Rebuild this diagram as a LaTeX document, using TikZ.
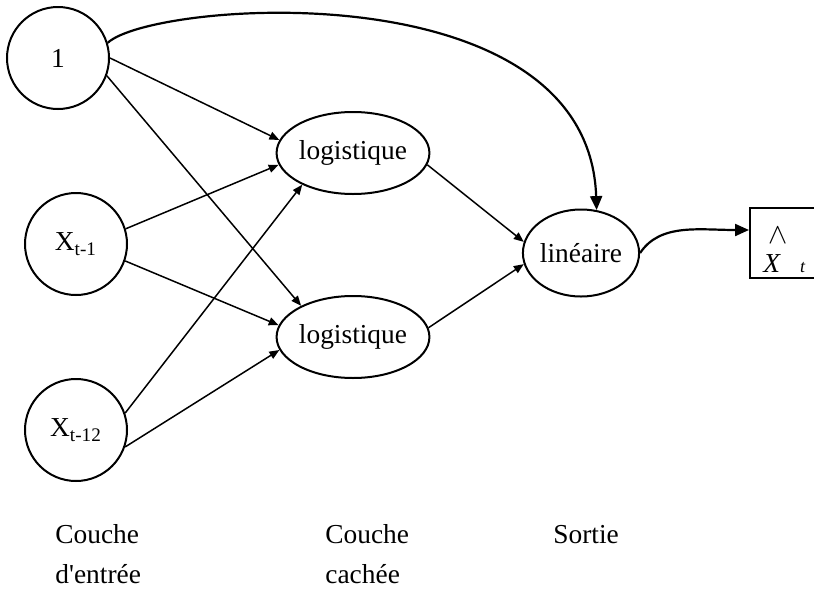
\documentclass[tikz,border=0pt]{standalone}
\usepackage{fontspec}
\setmainfont{Liberation Serif}
\usetikzlibrary{arrows.meta, shapes.geometric}

\begin{document}
\begin{tikzpicture}[x=0.5pt, y=-0.5pt, font=\fontsize{13.7}{16}\selectfont,
  neuron/.style={draw, line width=1pt, circle, minimum size=51pt, inner sep=0pt},
  unit/.style={draw, line width=1pt, ellipse, inner sep=0pt},
  link/.style={line width=0.75pt, -{Triangle[length=5pt, width=4pt]}},
  loop/.style={line width=1.1pt, -{Triangle[length=7pt, width=6pt]}},
  caption/.style={anchor=base west, inner sep=0pt}]
\clip (0,0) rectangle (814,600);
% couche d'entree
\node[neuron] (N1) at (58,58) {1};
\node[neuron] (X1) at (76,244) {X\textsubscript{t-1}};
\node[neuron] (X12) at (76,430) {X\textsubscript{t-12}};
% couche cachee et sortie
\node[unit, minimum width=58.5pt, minimum height=41pt] (H1) at (353,153) {logistique};
\node[unit, minimum width=58.5pt, minimum height=41pt] (H2) at (353,337) {logistique};
\node[unit, minimum width=51pt, minimum height=43.5pt] (L) at (581,253) {lin\'eaire};
\node[draw, line width=1pt, minimum width=45pt, minimum height=35pt, inner sep=0pt] (Y) at (795,243) {};
\node[inner sep=0pt] (caret) at (778,235) {$\wedge$};
\node[caption] (Xt) at (763,272) {\textit{X}\hspace{9.5pt}{\fontsize{9}{10}\selectfont\textit{t}}};
% connexions
\draw[link] (N1.east) -- (H1.170);
\draw[link] (N1.-20) -- (H2.149);
\draw[link] (X1.17) -- (H1.189);
\draw[link] (X1.-19) -- (H2.171);
\draw[link] (X12.19) -- (H1.212);
\draw[link] (X12.-19) -- (H2.190);
\draw[link] (H1.-9) -- (L.169);
\draw[link] (H2.7) -- (L.191);
\draw[loop] (N1.17) .. controls +(45,-42) and +(-8,-242) .. (L.70);
\draw[loop] (L.east) .. controls +(20,-30) and +(-50,0) .. ([yshift=6.5pt]Y.west);
% legendes
\node[caption] (c1) at (55,543) {Couche};
\node[caption] (c2) at (55,583) {d\textquotesingle entr\'ee};
\node[caption] (c3) at (325,543) {Couche};
\node[caption] (c4) at (325,583) {cach\'ee};
\node[caption] (c5) at (553,543) {Sortie};
\end{tikzpicture}
\end{document}
